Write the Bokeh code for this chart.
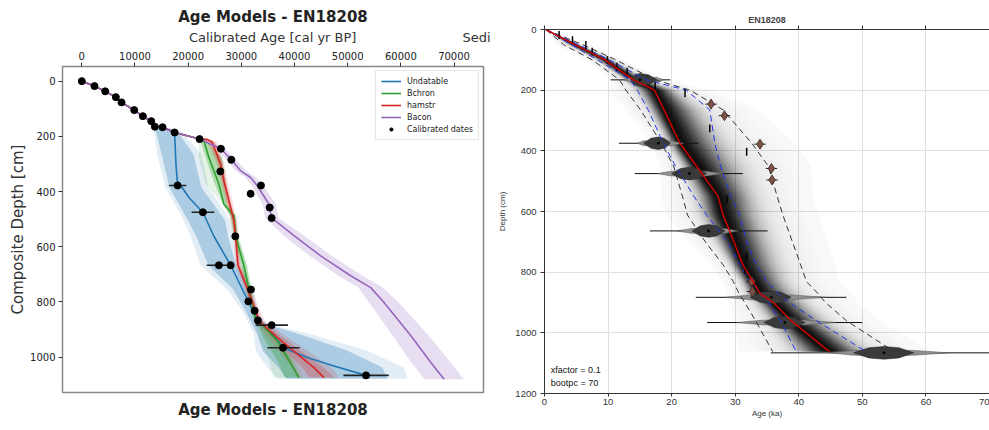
import numpy as np
from bokeh.plotting import figure
from bokeh.layouts import row
from bokeh.models import Range1d, FixedTicker, LinearAxis, Title, Label, Legend, LegendItem
from bokeh.embed import file_html
from bokeh.resources import INLINE

# ---------------- Left panel data (cal yr BP, cm) ----------------
top_age = [0, 2390, 4400, 6400, 7470, 9860, 11480, 13060, 13740, 15190, 17450]
top_depth = [0, 18, 37, 58, 77, 105, 127, 145, 165, 167, 186]

und_age = [17700, 17950, 20300, 22770, 24840, 27990, 31320, 33120, 35800, 37900, 42400, 47400, 53450]
und_depth = [300, 361, 425, 475, 562, 667, 798, 867, 917, 966, 1001, 1032, 1066]

bch_age = [22150, 22960, 23900, 25780, 26720, 28600, 28930, 30490, 31430, 32370, 32690, 36770, 38660, 40840]
bch_depth = [210, 216, 277, 373, 446, 488, 561, 669, 754, 838, 857, 941, 1002, 1074]

ham_age = [22150, 23600, 24540, 26100, 26720, 27670, 28610, 28930, 29360, 31430, 33310, 36770, 40540, 43660, 45540]
ham_depth = [210, 211, 222, 301, 361, 434, 506, 561, 666, 766, 868, 929, 989, 1038, 1074]

bac_age = [22150, 26160, 28120, 29870, 31750, 33010, 35190, 35700, 36770, 39900, 44920, 50570, 54330, 56840, 61920, 65680, 68130]
bac_depth = [210, 245, 285, 325, 349, 379, 446, 496, 512, 560, 633, 705, 748, 802, 923, 1020, 1080]

und_band_depth = [165, 180, 265, 385, 506, 562, 667, 755, 840, 880, 917, 977, 1037, 1078]
und_out_lo = [13740, 13550, 14190, 15750, 19200, 20460, 22340, 27360, 30430, 31400, 32370, 32690, 34890, 36800]
und_out_hi = [15190, 18500, 22500, 23800, 28000, 28500, 29870, 32370, 33070, 35000, 43040, 53710, 60600, 61240]
und_in_lo = [13740, 13900, 15000, 16500, 20000, 21500, 23800, 28500, 31000, 32000, 33000, 34000, 37000, 38500]
und_in_hi = [15190, 17900, 21000, 22500, 27000, 27500, 29000, 31800, 32700, 34500, 41000, 50000, 56500, 57500]

bch_band_depth = [210, 216, 277, 373, 446, 488, 561, 669, 754, 838, 857, 941, 1002, 1074]
bch_out_lo = [21800, 22000, 22000, 23300, 26500, 27800, 28400, 29800, 30800, 31800, 32300, 33500, 35000, 36100]
bch_out_hi = [22500, 23500, 26500, 27200, 27800, 29000, 29500, 31200, 32000, 33000, 33300, 38000, 40000, 41500]
bch_in_lo = [21900, 22300, 23300, 25000, 26600, 28000, 28600, 30000, 31000, 32000, 32400, 34500, 36500, 38200]
bch_in_hi = [22400, 23300, 26300, 27000, 27400, 28900, 29300, 31000, 31800, 32800, 33100, 37200, 39300, 41000]

ham_band_depth = [210, 222, 301, 361, 434, 506, 561, 666, 766, 868, 929, 989, 1038, 1074]
ham_out_lo = [22000, 23600, 25400, 26100, 27000, 28000, 28500, 28900, 30800, 32500, 35000, 37500, 39500, 40500]
ham_out_hi = [24200, 25400, 26800, 27400, 28300, 29200, 29400, 29900, 32100, 34300, 38800, 43500, 47000, 48500]
ham_in_lo = [22100, 24000, 25700, 26400, 27300, 28300, 28700, 29100, 31100, 32900, 35900, 39000, 41500, 42800]
ham_in_hi = [23900, 25100, 26500, 27100, 28000, 28900, 29200, 29700, 31800, 33800, 37800, 42000, 45500, 47500]

bac_band_depth = [210, 245, 285, 325, 349, 379, 446, 496, 512, 560, 633, 705, 748, 802, 923, 1020, 1080]
bac_lo = [21800, 25300, 27200, 28900, 30800, 32000, 34000, 34500, 35400, 38000, 42800, 48300, 52000, 54000, 58500, 62000, 64500]
bac_hi = [22600, 27000, 29000, 30900, 32800, 34100, 36500, 37000, 38200, 41800, 47000, 52800, 56600, 59600, 65300, 69400, 71800]

cal_age = [0, 2390, 4400, 6400, 7470, 9860, 11480, 13060, 13740, 15190, 17450, 22150, 26160, 28120, 26050,
           33690, 31750, 35330, 18010, 22770, 35700, 28870, 25780, 27990, 31810, 31320, 32500, 33120, 35700, 37830, 53450]
cal_depth = [0, 18, 37, 58, 77, 105, 127, 145, 165, 167, 186, 210, 245, 285, 327,
             378, 408, 458, 378, 475, 496, 562, 667, 667, 755, 798, 832, 867, 884, 966, 1066]
err_depth = [378, 475, 667, 884, 966, 1066]
err_lo = [16370, 20650, 23470, 32690, 34890, 49200]
err_hi = [19650, 24920, 28420, 38770, 40970, 57720]

left_xticks = [0, 10000, 20000, 30000, 40000, 50000, 60000, 70000]
left_yticks = [0, 200, 400, 600, 800, 1000]
left_top_texts = {35890: "Calibrated Age [cal yr BP]", 74500: "Sedi"}

# ---------------- Right panel data (ka, cm) ----------------
dep_r = [0, 50, 100, 166, 200, 265, 375, 450, 550, 612, 700, 776, 831, 870, 900, 960, 1062]
med_r = [0.2, 4.8, 9.5, 14.0, 17.3, 18.8, 21.3, 23.9, 27.3, 28.1, 29.8, 31.2, 32.8, 33.9, 36.0, 38.8, 44.8]
blue_lo = [0.2, 4.2, 8.3, 13.5, 14.6, 16.3, 18.7, 20.6, 23.5, 25.5, 28.8, 30.8, 32.3, 34.2, 35.2, 37.1, 39.6]
blue_hi = [0.2, 5.3, 10.2, 16.0, 22.3, 26.0, 26.8, 27.7, 29.3, 30.7, 31.8, 33.3, 35.0, 36.7, 38.5, 42.8, 50.6]
black_lo = [0.2, 3.0, 7.5, 11.8, 12.8, 15.1, 18.4, 20.3, 21.7, 22.5, 25.3, 28.1, 29.7, 30.6, 31.5, 33.2, 35.9]
black_hi = [0.2, 6.0, 11.2, 17.4, 22.9, 28.1, 32.6, 35.2, 36.6, 37.5, 39.0, 40.3, 41.2, 43.0, 44.2, 47.5, 55.0]

viol_depth = [166, 375, 475, 664, 883, 966, 1066]
viol_center = [15.0, 17.9, 22.8, 25.8, 35.7, 37.8, 53.4]
viol_dark_lo = [13.5, 15.6, 20.0, 23.2, 32.3, 34.5, 48.6]
viol_dark_hi = [17.7, 19.8, 25.5, 28.4, 38.8, 41.0, 58.1]
viol_light_lo = [12.5, 14.6, 17.7, 20.8, 28.4, 30.2, 44.8]
viol_light_hi = [18.7, 21.9, 28.1, 30.5, 44.3, 45.8, 63.6]
viol_whisk_lo = [10.4, 11.7, 14.2, 16.6, 23.8, 25.6, 35.6]
viol_whisk_hi = [19.8, 24.2, 31.2, 35.1, 47.5, 50.0, 72.0]

tick_age = [2.3, 4.4, 6.5, 7.5, 9.9, 11.4, 13.0, 17.4, 22.1, 26.0, 31.8, 28.7, 31.8, 31.5]
tick_depth = [18, 35, 51, 73, 100, 123, 139, 186, 210, 326, 403, 560, 749, 793]

out_age = [26.2, 28.3, 33.9, 35.7, 35.8, 32.6, 32.7]
out_depth = [246, 284, 378, 458, 496, 831, 864]

right_xticks = [0, 10, 20, 30, 40, 50, 60, 70]
right_yticks = [0, 200, 400, 600, 800, 1000, 1200]

# ---------------- Left figure ----------------
FL = "DejaVu Sans"
BLUE, GREEN, RED, PURPLE = "#1f77b4", "#2ca02c", "#d62728", "#9467bd"

pL = figure(width=490, height=430, x_range=Range1d(-3630, 75540), y_range=Range1d(1128, -53),
            x_axis_location="above", output_backend="svg", toolbar_location=None,
            min_border_left=62, min_border_right=7, min_border_top=66, min_border_bottom=38,
            background_fill_color="white", border_fill_color="white", frame_align=False)
pL.title.text = "Age Models - EN18208"
pL.title.align = "center"
pL.title.text_font = FL
pL.title.text_font_size = "15px"
pL.title.text_font_style = "bold"
pL.title.text_color = "#222222"
pL.title.standoff = 2
pL.grid.visible = False
pL.outline_line_color = "#888888"
pL.outline_line_width = 1.5

top_ax = pL.xaxis[0]
for ax in (top_ax, pL.yaxis[0]):
    ax.major_label_text_font = FL
    ax.major_label_text_font_size = "10px"
    ax.major_label_text_color = "#222222"
    ax.axis_label_text_font = FL
    ax.axis_label_text_font_style = "normal"
    ax.axis_label_text_color = "#333333"
    ax.minor_tick_line_color = None
    ax.major_tick_in = 0
    ax.major_tick_out = 4
    ax.axis_line_color = None
    ax.major_tick_line_color = "#333333"
    ax.major_label_standoff = 3
top_ax.ticker = FixedTicker(ticks=left_xticks)
pL.yaxis[0].ticker = FixedTicker(ticks=left_yticks)
pL.yaxis[0].axis_label = "Composite Depth [cm]"
pL.yaxis[0].axis_label_text_font_size = "15px"
pL.yaxis[0].axis_label_standoff = 0

# row holding the axis title and the clipped neighbouring title
title_ax = LinearAxis(ticker=FixedTicker(ticks=list(left_top_texts.keys())),
                      major_label_overrides=left_top_texts,
                      major_label_text_font=FL, major_label_text_font_size="13px",
                      major_label_text_color="#333333", major_tick_out=0, major_tick_in=0,
                      major_tick_line_color=None, minor_tick_line_color=None,
                      axis_line_color=None, major_label_standoff=4)
pL.add_layout(title_ax, "above")

# bands
pL.harea(y=und_band_depth, x1=und_out_lo, x2=und_out_hi, fill_color=BLUE, fill_alpha=0.13)
pL.harea(y=und_band_depth, x1=und_in_lo, x2=und_in_hi, fill_color=BLUE, fill_alpha=0.28)
pL.harea(y=bch_band_depth, x1=bch_out_lo, x2=bch_out_hi, fill_color=GREEN, fill_alpha=0.12)
pL.harea(y=bch_band_depth, x1=bch_in_lo, x2=bch_in_hi, fill_color=GREEN, fill_alpha=0.3)
pL.harea(y=ham_band_depth, x1=ham_out_lo, x2=ham_out_hi, fill_color=RED, fill_alpha=0.15)
pL.harea(y=ham_band_depth, x1=ham_in_lo, x2=ham_in_hi, fill_color=RED, fill_alpha=0.25)
pL.harea(y=bac_band_depth, x1=bac_lo, x2=bac_hi, fill_color=PURPLE, fill_alpha=0.22)

r_und = pL.line(top_age + und_age, top_depth + und_depth, line_color=BLUE, line_width=1.6)
r_bch = pL.line(top_age + bch_age, top_depth + bch_depth, line_color=GREEN, line_width=1.6)
r_ham = pL.line(top_age + ham_age, top_depth + ham_depth, line_color=RED, line_width=1.6)
r_bac = pL.line(top_age + bac_age, top_depth + bac_depth, line_color=PURPLE, line_width=1.6)

pL.segment(x0=err_lo, y0=err_depth, x1=err_hi, y1=err_depth, line_color="#222222", line_width=1.6)
r_dots = pL.scatter(cal_age, cal_depth, marker="circle", size=7, fill_color="black", line_color="black")

legend = Legend(items=[LegendItem(label="Undatable", renderers=[r_und]),
                       LegendItem(label="Bchron", renderers=[r_bch]),
                       LegendItem(label="hamstr", renderers=[r_ham]),
                       LegendItem(label="Bacon", renderers=[r_bac]),
                       LegendItem(label="Calibrated dates", renderers=[r_dots])],
                location="top_right", label_text_font=FL, label_text_font_size="8px",
                label_text_color="#222222", glyph_width=20, glyph_height=8, label_height=10,
                spacing=2, padding=5, margin=4, border_line_color="#cccccc",
                background_fill_alpha=0.9, label_standoff=6)
pL.add_layout(legend)

pL.add_layout(Title(text="Age Models - EN18208", align="center", text_font=FL, text_font_size="15px",
                    text_font_style="bold", text_color="#222222", standoff=12), "below")

# ---------------- Right figure ----------------
FR = "Liberation Sans"
pR = figure(width=499, height=430, x_range=Range1d(0, 70), y_range=Range1d(1200, 0),
            x_axis_location=None, output_backend="svg", toolbar_location=None,
            min_border_left=54, min_border_right=0, min_border_top=29, min_border_bottom=37,
            background_fill_color="white", border_fill_color="white", frame_align=False)
pR.title.text = "EN18208"
pR.title.align = "center"
pR.title.text_font = FR
pR.title.text_font_size = "9px"
pR.title.text_font_style = "bold"
pR.title.standoff = 1
pR.outline_line_color = None
pR.grid.grid_line_color = "#e0e0e0"
pR.xgrid.ticker = FixedTicker(ticks=right_xticks)
pR.ygrid.ticker = FixedTicker(ticks=right_yticks)

bot_ax = LinearAxis(ticker=FixedTicker(ticks=right_xticks), axis_label="Age (ka)")
up_ax = LinearAxis(ticker=FixedTicker(ticks=right_xticks))
pR.add_layout(bot_ax, "below")
pR.add_layout(up_ax, "above")
left_ax = pR.yaxis[0]
left_ax.ticker = FixedTicker(ticks=right_yticks)
left_ax.axis_label = "Depth (cm)"
for ax in (bot_ax, up_ax, left_ax):
    ax.major_label_text_font = FR
    ax.major_label_text_color = "#333333"
    ax.axis_label_text_font = FR
    ax.axis_label_text_font_style = "normal"
    ax.axis_label_text_font_size = "8px"
    ax.axis_label_text_color = "#333333"
    ax.minor_tick_line_color = None
    ax.major_tick_in = 0
    ax.major_tick_out = 4
    ax.axis_line_color = "#333333"
    ax.major_tick_line_color = "#333333"
bot_ax.major_label_text_font_size = "9.5px"
left_ax.major_label_text_font_size = "9.5px"
up_ax.major_label_text_font_size = "0px"
up_ax.major_label_text_color = None
up_ax.major_label_standoff = 0
bot_ax.major_tick_out = 3
bot_ax.major_label_standoff = 2
bot_ax.axis_label_standoff = 1
left_ax.major_label_standoff = 4
left_ax.axis_label_standoff = 5

# density of the age model
med = np.array(med_r)
blo = np.array(black_lo)
bhi = np.array(black_hi)
fracs = np.linspace(1.6, 0.04, 34)
dark = 0.88 * np.exp(-0.5 * (fracs / 0.32) ** 2) + 0.08 * np.exp(-0.5 * (fracs / 1.0) ** 2)
dark = np.minimum(np.maximum.accumulate(dark), 0.93)
prev = 0.0
for f, d in zip(fracs, dark):
    a = float(np.clip(1 - (1 - d) / (1 - prev), 0.0, 1.0))
    prev = d
    pR.harea(y=dep_r, x1=med - f * (med - blo), x2=med + f * (bhi - med), fill_color="black",
             fill_alpha=a)

# date distributions
hd, hl = 21, 8
xs_d, ys_d, xs_l, ys_l = [], [], [], []
for d, c, dl, dh, ll, lh in zip(viol_depth, viol_center, viol_dark_lo, viol_dark_hi, viol_light_lo, viol_light_hi):
    xs_l.append([ll, dl, dh, lh, dh, dl])
    ys_l.append([d, d - hl, d - hl, d, d + hl, d + hl])
    xs_d.append([dl, (dl + c) / 2, c, (c + dh) / 2, dh, (c + dh) / 2, c, (dl + c) / 2])
    ys_d.append([d, d - 0.8 * hd, d - hd, d - 0.8 * hd, d, d + 0.8 * hd, d + hd, d + 0.8 * hd])
pR.segment(x0=viol_whisk_lo, y0=viol_depth, x1=viol_whisk_hi, y1=viol_depth, line_color="#111111", line_width=1)
pR.patches(xs_l, ys_l, fill_color="#8f8f8f", line_color="#555555", line_width=0.5)
pR.patches(xs_d, ys_d, fill_color="#3a3a3a", line_color="#222222", line_width=0.5)
pR.scatter(viol_center, viol_depth, size=2, color="black")

# dashed envelopes
pR.line(black_lo, dep_r, line_color="#333333", line_dash="6 4", line_width=1)
pR.line(black_hi, dep_r, line_color="#333333", line_dash="6 4", line_width=1)
pR.line(blue_lo, dep_r, line_color="#2233ee", line_dash="6 4", line_width=1)
pR.line(blue_hi, dep_r, line_color="#2233ee", line_dash="6 4", line_width=1)

# small dates and outliers
pR.segment(x0=tick_age, y0=[d - 13 for d in tick_depth], x1=tick_age, y1=[d + 13 for d in tick_depth],
           line_color="black", line_width=1.5)
pR.segment(x0=[a - 0.9 for a in out_age], y0=out_depth, x1=[a + 0.9 for a in out_age], y1=out_depth,
           line_color="#222222", line_width=1)
pR.scatter(out_age, out_depth, marker="diamond", size=10, fill_color="#7d5146", line_color="#3a2520",
           line_width=0.8)
pR.line(med_r, dep_r, line_color="#cc0000", line_width=1.5)

pR.add_layout(Label(x=1.0, y=1123, text="xfactor = 0.1", text_font=FR, text_font_size="9px",
                    text_color="#111111", text_baseline="middle"))
pR.add_layout(Label(x=1.0, y=1165, text="bootpc = 70", text_font=FR, text_font_size="9px",
                    text_color="#111111", text_baseline="middle"))

layout = row(pL, pR)
open("out.html", "w").write(file_html(layout, INLINE))
